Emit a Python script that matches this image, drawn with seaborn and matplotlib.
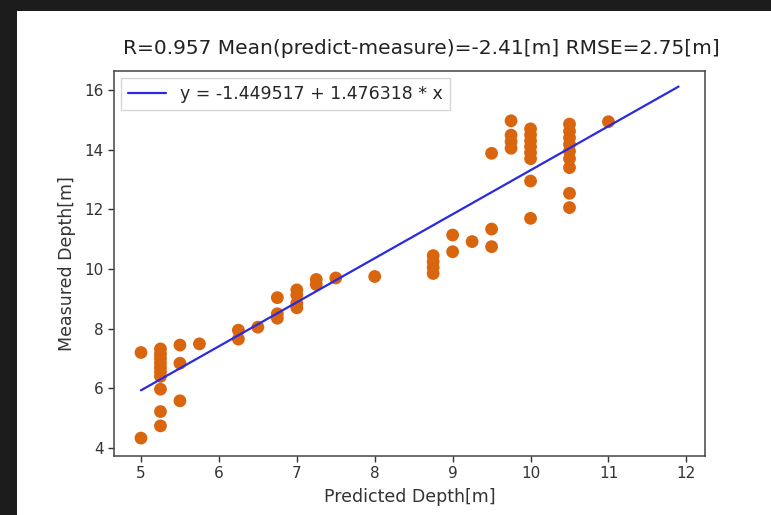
import numpy as np
import pandas as pd
import matplotlib
matplotlib.use("Agg")
import matplotlib.pyplot as plt
import seaborn as sns
from matplotlib.patches import Rectangle

# ---- data ----
predicted = [5.0, 5.0,
             5.25, 5.25, 5.25, 5.25, 5.25, 5.25, 5.25, 5.25, 5.25, 5.25,
             5.5, 5.5, 5.5,
             5.75,
             6.25, 6.25,
             6.5,
             6.75, 6.75, 6.75,
             7.0, 7.0, 7.0, 7.0,
             7.25, 7.25,
             7.5,
             8.0,
             8.75, 8.75, 8.75, 8.75,
             9.0, 9.0,
             9.25,
             9.5, 9.5, 9.5,
             9.75, 9.75, 9.75, 9.75,
             10.0, 10.0, 10.0, 10.0, 10.0, 10.0, 10.0, 10.0,
             10.5, 10.5, 10.5, 10.5, 10.5, 10.5, 10.5, 10.5, 10.5,
             11.0]
measured = [7.2, 4.33,
            7.32, 7.15, 7.0, 6.85, 6.7, 6.55, 6.4, 5.97, 5.22, 4.74,
            7.45, 6.84, 5.58,
            7.49,
            7.95, 7.65,
            8.05,
            9.04, 8.5, 8.35,
            9.3, 9.13, 8.85, 8.7,
            9.65, 9.48,
            9.7,
            9.75,
            10.45, 10.25, 10.05, 9.85,
            11.14, 10.58,
            10.92,
            13.88, 11.34, 10.75,
            14.97, 14.49, 14.27, 14.05,
            14.7, 14.5, 14.3, 14.1, 13.9, 13.7, 12.95, 11.7,
            14.86, 14.62, 14.4, 14.18, 13.95, 13.7, 13.4, 12.54, 12.06,
            14.94]
fit_x = [5.0, 11.9]
intercept = -1.449517
slope = 1.476318

title = "R=0.957 Mean(predict-measure)=-2.41[m] RMSE=2.75[m]"
legend_label = "y = -1.449517 + 1.476318 * x"
x_label = "Predicted Depth[m]"
y_label = "Measured Depth[m]"
x_ticks = [5, 6, 7, 8, 9, 10, 11, 12]
y_ticks = [4, 6, 8, 10, 12, 14, 16]

df = pd.DataFrame({"predicted": predicted, "measured": measured})
fit_df = pd.DataFrame({"x": fit_x, "y": [intercept + slope * v for v in fit_x]})

sns.set_theme(style="ticks")
plt.rcParams["font.family"] = ["DejaVu Sans"]

fig = plt.figure(figsize=(7.71, 5.15), dpi=100, facecolor="#1c1c1c")
# white "slide" area behind the chart
bg = Rectangle((17 / 771, 0), 1 - 17 / 771, 1 - 11 / 515,
               transform=fig.transFigure, facecolor="white",
               edgecolor="none", zorder=-10)
fig.add_artist(bg)

ax = fig.add_axes([0.148, 0.1146, 0.767, 0.7475])
ax.set_zorder(1)
ax.set_facecolor("white")

sns.scatterplot(data=df, x="predicted", y="measured", ax=ax, color="#d9650e",
                s=85, edgecolor="none", linewidth=0, zorder=2, legend=False)
sns.lineplot(data=fit_df, x="x", y="y", ax=ax, color="#2a2ae0", linewidth=1.6,
             label=legend_label, zorder=3)

ax.set_xlim(4.655, 12.245)
ax.set_ylim(3.73, 16.64)
ax.set_xticks(x_ticks)
ax.set_yticks(y_ticks)
ax.tick_params(labelsize=11, colors="#333333", length=4, width=1)
for sp in ax.spines.values():
    sp.set_visible(True)
    sp.set_color("#444444")
    sp.set_linewidth(1.1)

ax.set_xlabel(x_label, fontsize=12.5, color="#333333", labelpad=5)
ax.set_ylabel(y_label, fontsize=12.5, color="#333333", labelpad=6)
ax.set_title(title, fontsize=14.5, color="#222222", pad=12, x=0.52)
ax.legend(loc="upper left", fontsize=12.5, frameon=True, fancybox=False,
          edgecolor="#cccccc", handlelength=2.2, borderaxespad=0.4)

fig.savefig("out.png", dpi=100, facecolor=fig.get_facecolor())
